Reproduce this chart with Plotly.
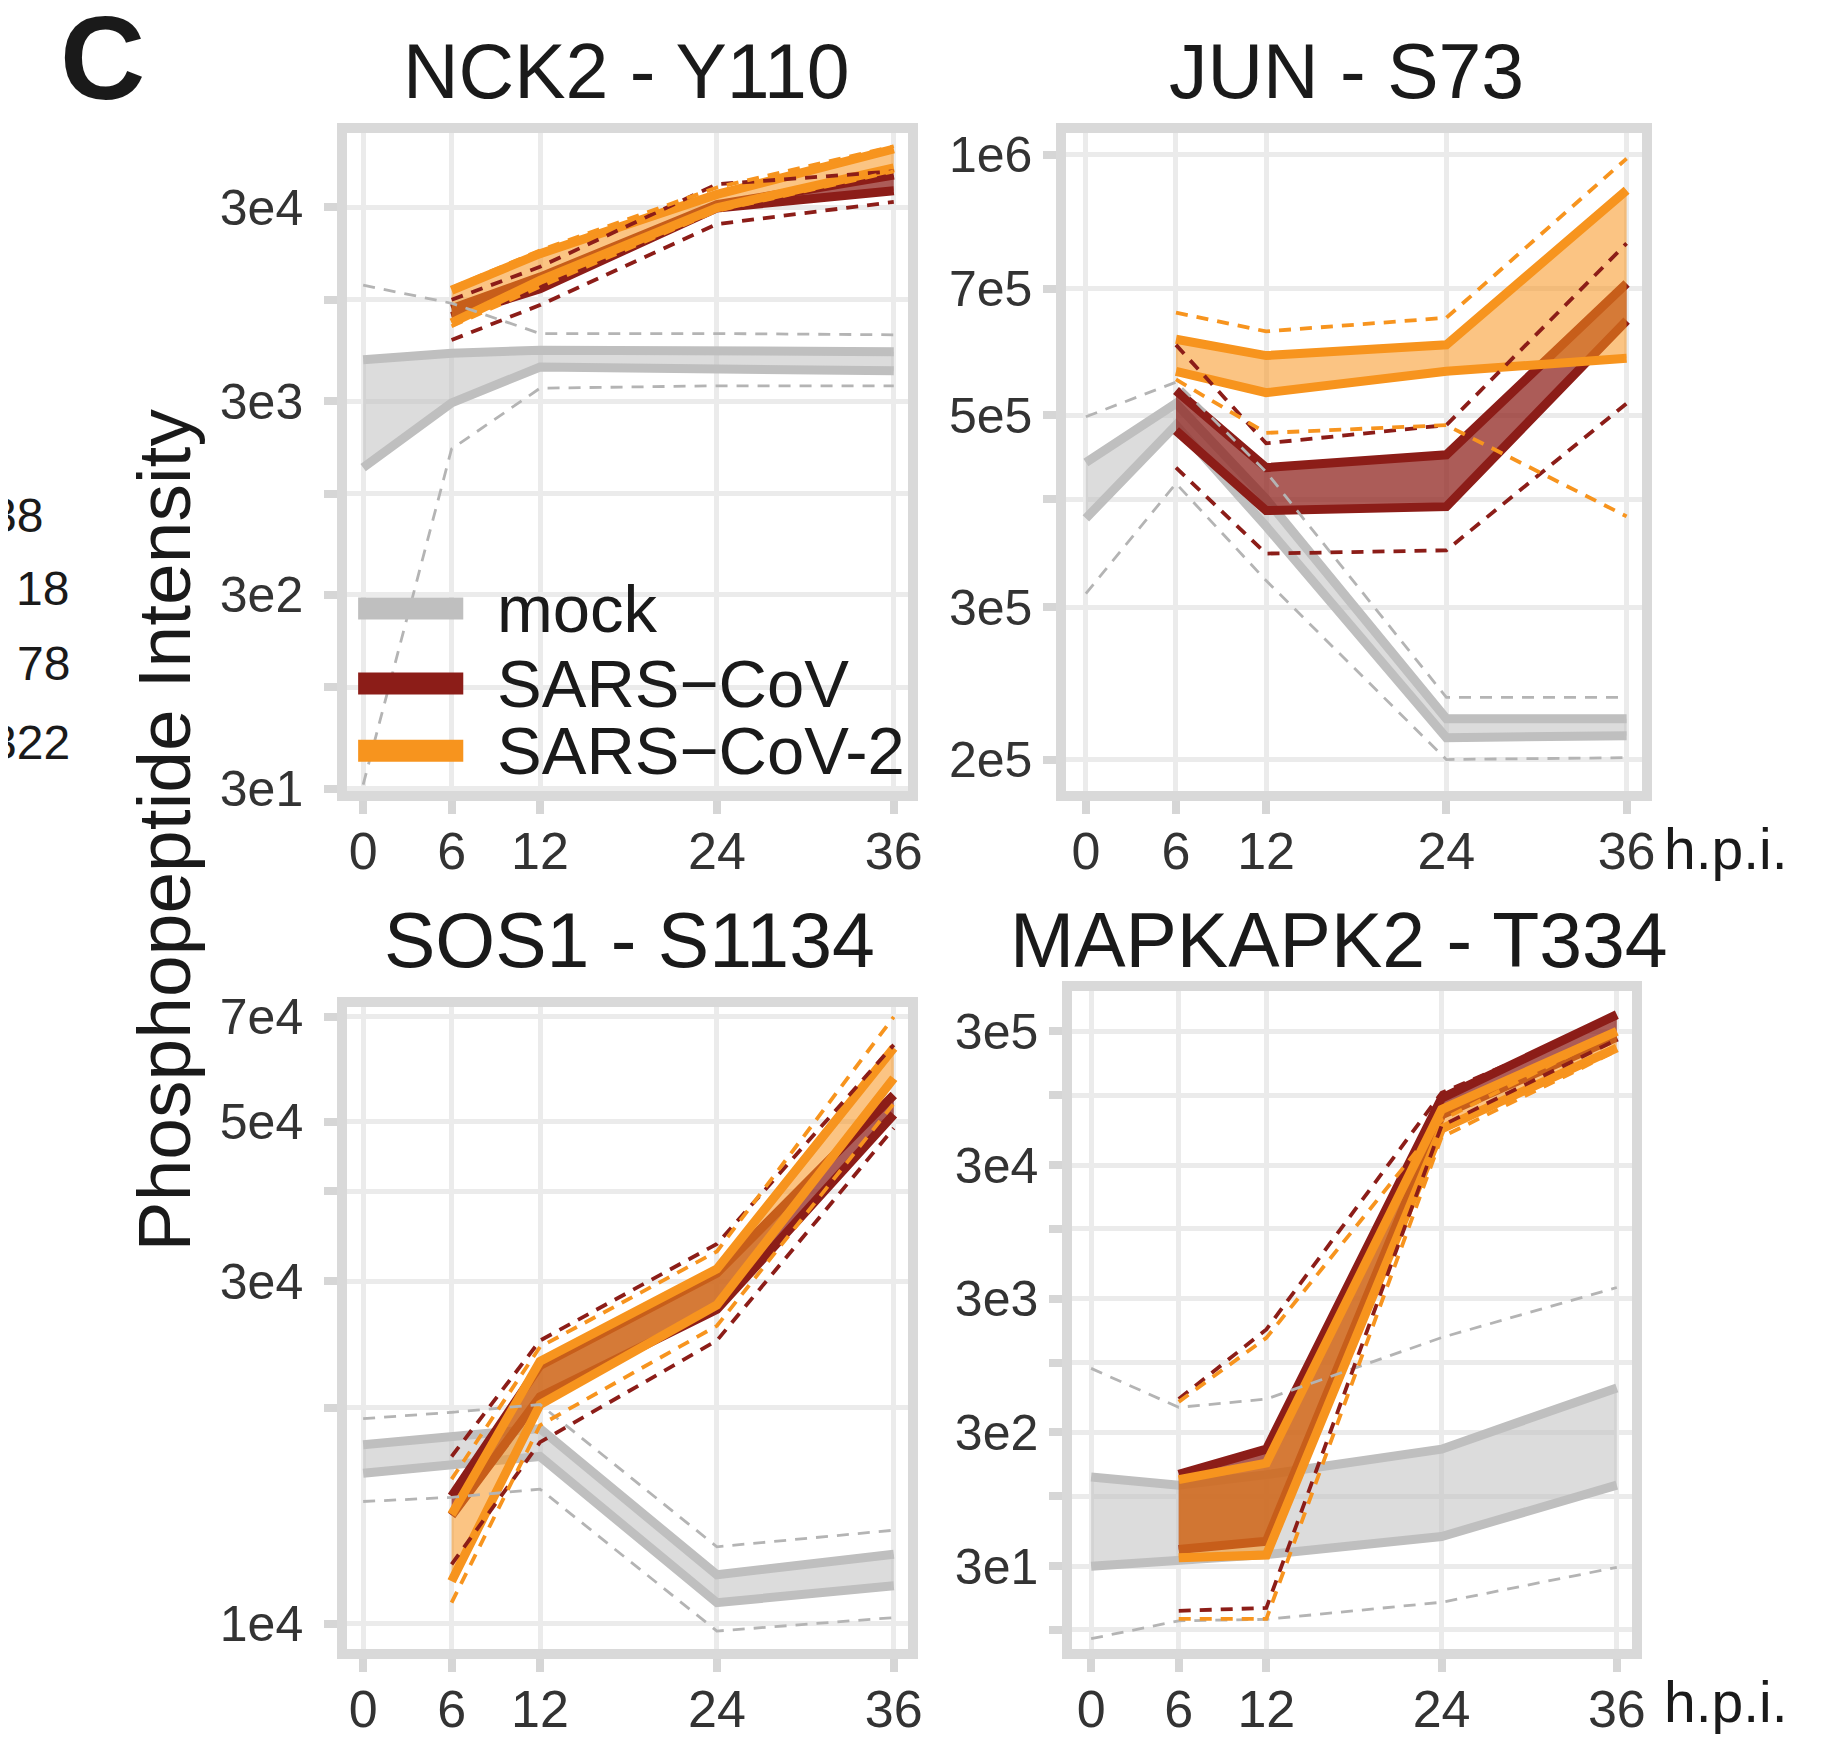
import plotly.graph_objects as go

W, H = 1847, 1740
FONT = "Liberation Sans, Arial, sans-serif"

# ---------------- data ----------------
hours = [0, 6, 12, 24, 36]
hours_inf = [6, 12, 24, 36]
x_tick_labels = ["0", "6", "12", "24", "36"]

# NCK2 - Y110
nck2_mock_hi = [4900, 5300, 5500, 5400, 5400]
nck2_mock_lo = [1360, 2940, 4500, 4350, 4300]
nck2_mock_dhi = [11900, 9600, 6700, 6700, 6600]
nck2_mock_dlo = [31.5, 1700, 3500, 3600, 3600]
nck2_cov1_hi = [9000, 13100, 31000, 44000]
nck2_cov1_lo = [8200, 11400, 29800, 36500]
nck2_cov1_dhi = [10000, 14800, 39500, 46000]
nck2_cov1_dlo = [6200, 9400, 24600, 32000]
nck2_cov2_hi = [11200, 17300, 35000, 60000]
nck2_cov2_lo = [7600, 12600, 29800, 48000]
nck2_cov2_dhi = [11500, 18000, 38000, 62000]
nck2_cov2_dlo = [7300, 11700, 28800, 46000]
nck2_ytick_vals = [30, 100, 300, 1000, 3000, 10000, 30000]
nck2_ytick_text = ["3e1", "", "3e2", "", "3e3", "", "3e4"]

# JUN - S73
jun_mock_hi = [4.41e5, 5.16e5, 4.0e5, 2.23e5, 2.23e5]
jun_mock_lo = [3.80e5, 4.87e5, 3.72e5, 2.12e5, 2.13e5]
jun_mock_dhi = [4.98e5, 5.46e5, 4.3e5, 2.36e5, 2.36e5]
jun_mock_dlo = [3.11e5, 4.17e5, 3.22e5, 2.0e5, 2.01e5]
jun_cov1_hi = [5.34e5, 4.35e5, 4.5e5, 7.10e5]
jun_cov1_lo = [4.80e5, 3.88e5, 3.92e5, 6.43e5]
jun_cov1_dhi = [6.03e5, 4.64e5, 4.87e5, 7.9e5]
jun_cov1_dlo = [4.35e5, 3.46e5, 3.49e5, 5.16e5]
jun_cov2_hi = [6.12e5, 5.86e5, 6.03e5, 9.1e5]
jun_cov2_lo = [5.62e5, 5.31e5, 5.62e5, 5.82e5]
jun_cov2_dhi = [6.57e5, 6.25e5, 6.48e5, 9.9e5]
jun_cov2_dlo = [5.5e5, 4.77e5, 4.87e5, 3.82e5]
jun_ytick_vals = [2e5, 3e5, 4e5, 5e5, 7e5, 1e6]
jun_ytick_text = ["2e5", "3e5", "", "5e5", "7e5", "1e6"]

# SOS1 - S1134
sos1_mock_hi = [1.775e4, 1.82e4, 1.87e4, 1.17e4, 1.25e4]
sos1_mock_lo = [1.62e4, 1.66e4, 1.71e4, 1.07e4, 1.13e4]
sos1_mock_dhi = [1.93e4, 1.97e4, 2.02e4, 1.28e4, 1.35e4]
sos1_mock_dlo = [1.48e4, 1.50e4, 1.54e4, 9.77e3, 1.02e4]
sos1_cov1_hi = [1.505e4, 2.29e4, 3.08e4, 5.45e4]
sos1_cov1_lo = [1.415e4, 2.07e4, 2.74e4, 5.12e4]
sos1_cov1_dhi = [1.71e4, 2.48e4, 3.38e4, 6.4e4]
sos1_cov1_dlo = [1.21e4, 1.79e4, 2.48e4, 4.9e4]
sos1_cov2_hi = [1.42e4, 2.32e4, 3.12e4, 6.34e4]
sos1_cov2_lo = [1.146e4, 2.02e4, 2.78e4, 5.75e4]
sos1_cov2_dhi = [1.59e4, 2.43e4, 3.3e4, 7.0e4]
sos1_cov2_dlo = [1.07e4, 1.89e4, 2.6e4, 5.3e4]
sos1_ytick_vals = [1e4, 2e4, 3e4, 4e4, 5e4, 7e4]
sos1_ytick_text = ["1e4", "", "3e4", "", "5e4", "7e4"]

# MAPKAPK2 - T334
mapk_mock_hi = [139, 121, 145, 225, 646]
mapk_mock_lo = [30, 33, 36.6, 50, 121]
mapk_mock_dhi = [904, 462, 533, 1537, 3640]
mapk_mock_dlo = [8.6, 11.7, 12.0, 16.1, 29.4]
mapk_cov1_hi = [146, 225, 9.5e4, 4.0e5]
mapk_cov1_lo = [40, 46, 7.1e4, 2.72e5]
mapk_cov1_dhi = [533, 1770, 1.04e5, 3.81e5]
mapk_cov1_dlo = [13.9, 14.6, 5.9e4, 2.6e5]
mapk_cov2_hi = [133, 177, 7.8e4, 3.0e5]
mapk_cov2_lo = [34.6, 36.3, 5.6e4, 2.25e5]
mapk_cov2_dhi = [508, 1530, 6.5e4, 3.0e5]
mapk_cov2_dlo = [12.1, 12.1, 4.85e4, 2.15e5]
mapk_ytick_vals = [10, 30, 100, 300, 1000, 3000, 10000, 30000, 100000, 300000]
mapk_ytick_text = ["", "3e1", "", "3e2", "", "3e3", "", "3e4", "", "3e5"]

panel_titles = ["NCK2 - Y110", "JUN - S73", "SOS1 - S1134", "MAPKAPK2 - T334"]
condition_names = ["mock", "SARS\u2212CoV", "SARS\u2212CoV-2"]
y_title = "Phosphopeptide Intensity"

# ---------------- styles ----------------
LINE_COL = ["#BFBFBF", "#8C1D18", "#F7941E"]
FILL_COL = ["rgba(191,191,191,0.55)", "rgba(140,29,24,0.72)", "rgba(247,148,30,0.55)"]
DASH_COL = ["#B4B4B4", "#8C1D18", "#F7941E"]
DASH_W = [2.8, 3.8, 3.8]
GRID = "#EBEBEB"
BORDER = "#D9D9D9"
TICKC = "#D6D6D6"
TICKTXT = "#333333"
LW = 10  # panel border width

# panel border centre-lines in pixels: (left, right, top, bottom)
borders = [(337, 912, 105, 790), (1062, 1652, 105, 790),
           (337, 912, 1002, 1671), (1068, 1642, 986, 1671)]
yranges = [[1.467, 4.86], [5.265, 6.025], [3.965, 4.859], [0.858, 5.776]]
xranges = [[-1.08, 36.94], [-1.3, 37.0], [-1.08, 36.94], [-1.29, 37.02]]
ylabel_standoff = [11, 1, 11, 1]

panels = [
    dict(mock=(nck2_mock_lo, nck2_mock_hi, nck2_mock_dlo, nck2_mock_dhi),
         cov1=(nck2_cov1_lo, nck2_cov1_hi, nck2_cov1_dlo, nck2_cov1_dhi),
         cov2=(nck2_cov2_lo, nck2_cov2_hi, nck2_cov2_dlo, nck2_cov2_dhi),
         tv=nck2_ytick_vals, tt=nck2_ytick_text),
    dict(mock=(jun_mock_lo, jun_mock_hi, jun_mock_dlo, jun_mock_dhi),
         cov1=(jun_cov1_lo, jun_cov1_hi, jun_cov1_dlo, jun_cov1_dhi),
         cov2=(jun_cov2_lo, jun_cov2_hi, jun_cov2_dlo, jun_cov2_dhi),
         tv=jun_ytick_vals, tt=jun_ytick_text),
    dict(mock=(sos1_mock_lo, sos1_mock_hi, sos1_mock_dlo, sos1_mock_dhi),
         cov1=(sos1_cov1_lo, sos1_cov1_hi, sos1_cov1_dlo, sos1_cov1_dhi),
         cov2=(sos1_cov2_lo, sos1_cov2_hi, sos1_cov2_dlo, sos1_cov2_dhi),
         tv=sos1_ytick_vals, tt=sos1_ytick_text),
    dict(mock=(mapk_mock_lo, mapk_mock_hi, mapk_mock_dlo, mapk_mock_dhi),
         cov1=(mapk_cov1_lo, mapk_cov1_hi, mapk_cov1_dlo, mapk_cov1_dhi),
         cov2=(mapk_cov2_lo, mapk_cov2_hi, mapk_cov2_dlo, mapk_cov2_dhi),
         tv=mapk_ytick_vals, tt=mapk_ytick_text),
]


def px(x):
    return x / W


def py(y):
    return 1 - y / H


fig = go.Figure()
layout = dict(width=W, height=H, margin=dict(l=0, r=0, t=0, b=0),
              paper_bgcolor="white", plot_bgcolor="white", showlegend=False,
              font=dict(family=FONT, color="black"))

for i, p in enumerate(panels):
    k = "" if i == 0 else str(i + 1)
    xa, ya = "x" + k, "y" + k
    L, R, T, B = borders[i]
    L, R, T, B = L + LW / 2, R - LW / 2, T + LW / 2, B - LW / 2
    groups = [("mock", hours), ("cov1", hours_inf), ("cov2", hours_inf)]
    # ribbons + solid bounds
    for g, (name, xs) in enumerate(groups):
        lo, hi, dlo, dhi = p[name]
        fig.add_trace(go.Scatter(x=xs, y=lo, mode="lines", xaxis=xa, yaxis=ya,
                                 line=dict(color=LINE_COL[g], width=9), hoverinfo="skip"))
        fig.add_trace(go.Scatter(x=xs, y=hi, mode="lines", xaxis=xa, yaxis=ya,
                                 line=dict(color=LINE_COL[g], width=9),
                                 fill="tonexty", fillcolor=FILL_COL[g], hoverinfo="skip"))
    # dashed outer bounds
    for g, (name, xs) in enumerate(groups):
        lo, hi, dlo, dhi = p[name]
        for arr in (dlo, dhi):
            fig.add_trace(go.Scatter(x=xs, y=arr, mode="lines", xaxis=xa, yaxis=ya,
                                     line=dict(color=DASH_COL[g], width=DASH_W[g], dash="12px,9px"),
                                     hoverinfo="skip"))
    layout["xaxis" + k] = dict(
        domain=[px(L), px(R)], anchor=ya, range=xranges[i],
        tickvals=hours, ticktext=x_tick_labels,
        showgrid=True, gridcolor=GRID, gridwidth=5, zeroline=False,
        ticks="outside", ticklen=13, tickwidth=8, tickcolor=TICKC,
        showline=True, linecolor=BORDER, linewidth=LW, mirror=True,
        tickfont=dict(family=FONT, size=52, color=TICKTXT), ticklabelstandoff=-7)
    layout["yaxis" + k] = dict(
        domain=[py(B), py(T)], anchor=xa, type="log", range=yranges[i],
        tickvals=p["tv"], ticktext=p["tt"],
        showgrid=True, gridcolor=GRID, gridwidth=5, zeroline=False,
        ticks="outside", ticklen=13, tickwidth=8, tickcolor=TICKC,
        showline=True, linecolor=BORDER, linewidth=LW, mirror=True,
        tickfont=dict(family=FONT, size=50, color=TICKTXT),
        ticklabelstandoff=ylabel_standoff[i])

fig.update_layout(**layout)

ann = []
# panel titles
title_pos = [(624, 46), (1349, 46), (627, 938), (1342, 938)]
for t, (tx, ty) in zip(panel_titles, title_pos):
    ann.append(dict(text=t, x=px(tx), y=py(ty), xref="paper", yref="paper",
                    xanchor="center", yanchor="middle", showarrow=False,
                    font=dict(family=FONT, size=77, color="#1a1a1a")))
# h.p.i. labels
for hy in (845, 1720):
    ann.append(dict(text="h.p.i.", x=px(1668), y=py(hy), xref="paper", yref="paper",
                    xanchor="left", yanchor="middle", showarrow=False,
                    font=dict(family=FONT, size=57, color="#1a1a1a")))
# y title
ann.append(dict(text=y_title, x=px(157), y=py(825), xref="paper", yref="paper",
                xanchor="center", yanchor="middle", textangle=-90, showarrow=False,
                font=dict(family=FONT, size=75, color="#1a1a1a")))
# panel letter
ann.append(dict(text="<b>C</b>", x=px(95), y=py(33), xref="paper", yref="paper",
                xanchor="center", yanchor="middle", showarrow=False,
                font=dict(family=FONT, size=118, color="#1a1a1a")))
# cut-off labels from neighbouring panel
for t, rx, ry in [("38", 37, 503), ("18", 64, 577), ("78", 65, 654), ("322", 65, 736)]:
    ann.append(dict(text=t, x=px(rx), y=py(ry), xref="paper", yref="paper",
                    xanchor="right", yanchor="middle", showarrow=False,
                    font=dict(family=FONT, size=48, color="#1a1a1a")))
# legend
shapes = []
leg_y = [598, 675, 744]
for g, (name, ly) in enumerate(zip(condition_names, leg_y)):
    shapes.append(dict(type="line", xref="paper", yref="paper", x0=px(353), x1=px(459),
                       y0=py(ly), y1=py(ly), line=dict(color=LINE_COL[g], width=22)))
    ann.append(dict(text=name, x=px(491), y=py(ly), xref="paper", yref="paper",
                    xanchor="left", yanchor="middle", showarrow=False,
                    font=dict(family=FONT, size=67, color="#1a1a1a")))
fig.update_layout(annotations=ann, shapes=shapes)

fig.write_html("out.html")
